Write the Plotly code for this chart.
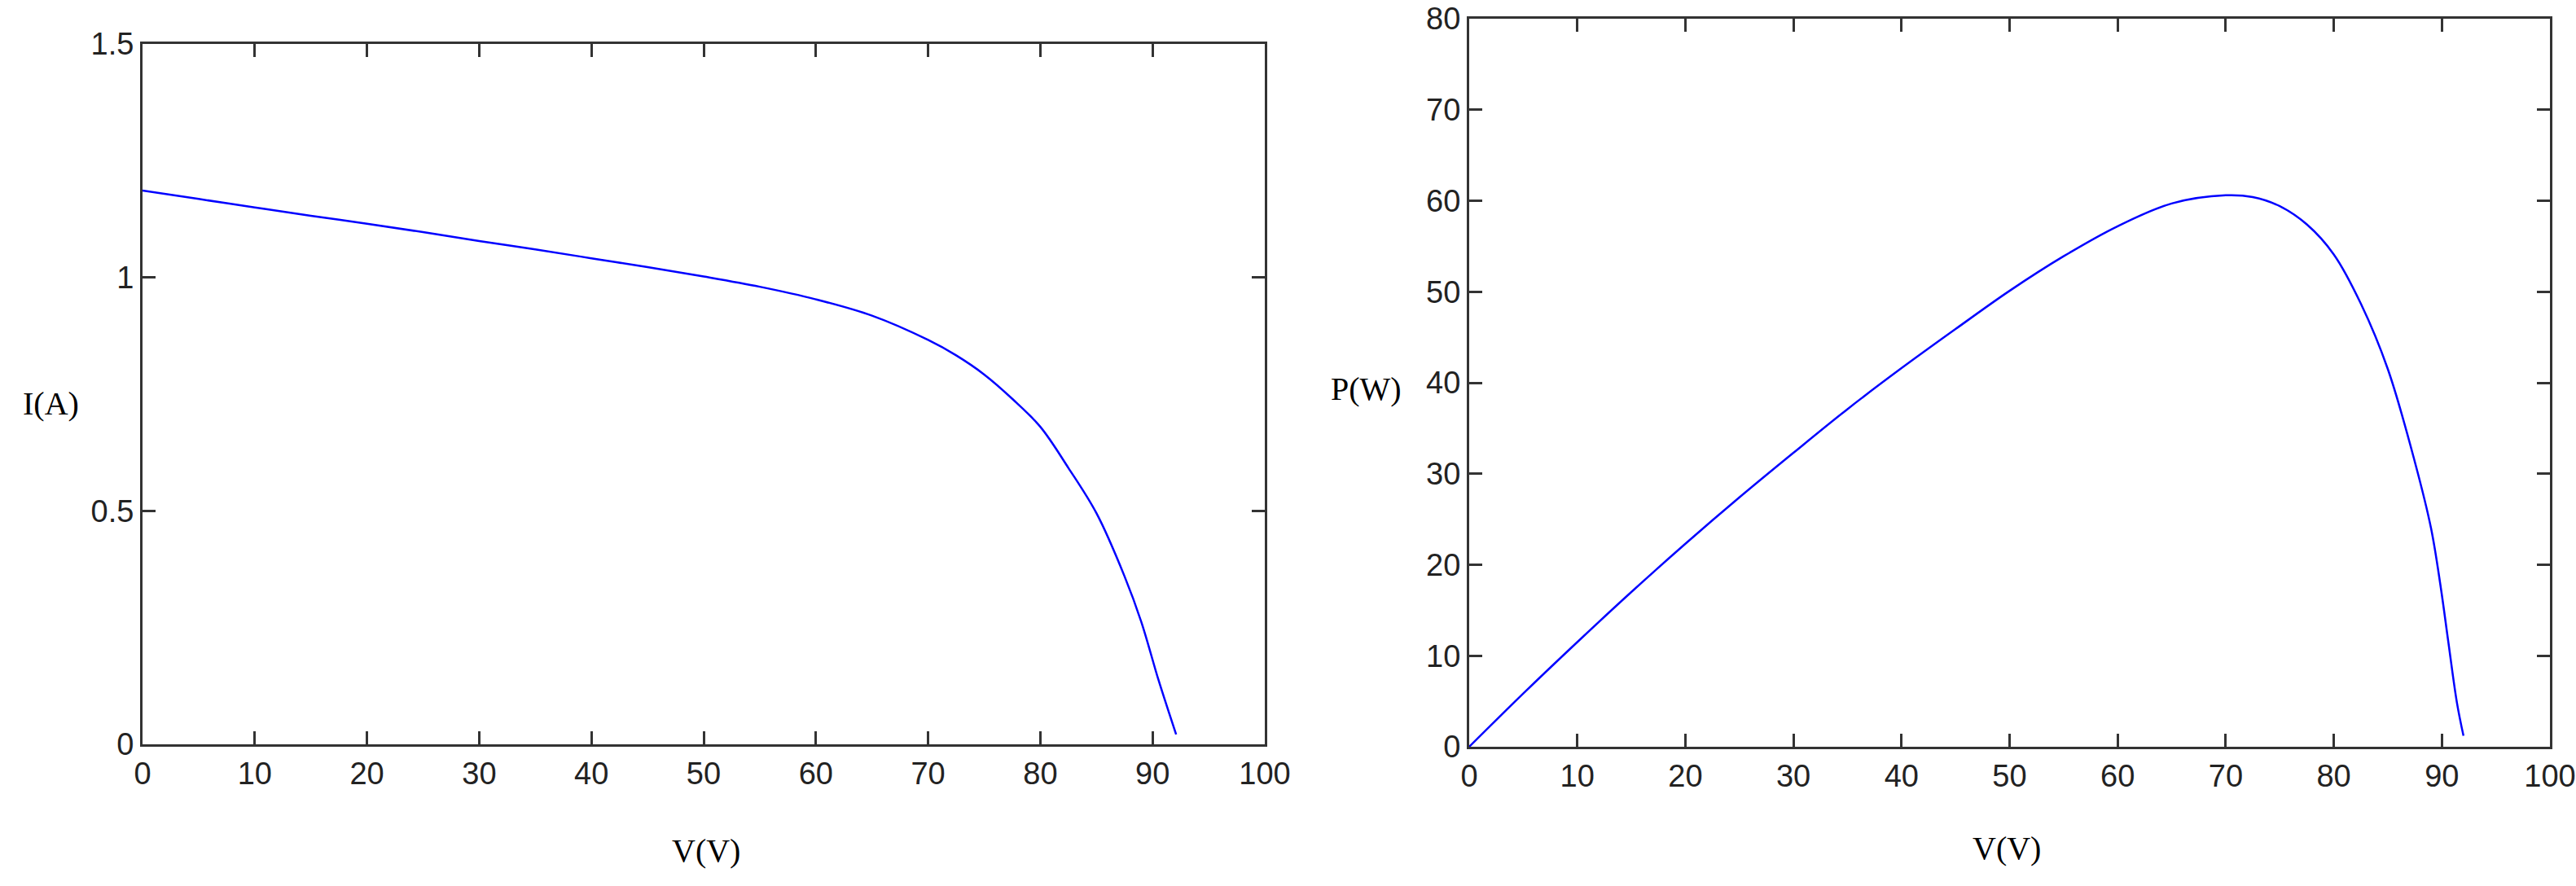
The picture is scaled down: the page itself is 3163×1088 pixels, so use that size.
import plotly.graph_objects as go

# I-V curve
iv_v = [0, 5, 10, 15, 20, 25, 30, 35, 40, 45, 50, 55, 60, 65, 70, 72.5, 75, 77.5,
        80, 82.5, 85, 87.5, 89, 90.5, 91.5, 92.1]
iv_i = [1.186, 1.168, 1.150, 1.132, 1.115, 1.097, 1.078, 1.060, 1.041, 1.022, 1.002,
        0.980, 0.953, 0.918, 0.866, 0.833, 0.792, 0.740, 0.680, 0.592, 0.495, 0.360,
        0.262, 0.140, 0.065, 0.021]

# P-V curve
pv_v = [0, 5, 10, 15, 20, 25, 30, 35, 40, 45, 50, 55, 60, 65, 70, 72.5, 75, 77.5,
        80, 82.5, 85, 87.5, 89, 89.9, 90.6, 91.4, 92.0]
pv_p = [0, 5.85, 11.5, 17.0, 22.3, 27.4, 32.3, 37.1, 41.6, 45.9, 50.1, 53.9, 57.2,
        59.7, 60.6, 60.4, 59.4, 57.4, 54.1, 48.7, 41.5, 31.3, 24.0, 17.5, 11.5, 4.8, 1.2]

x_ticks = [0, 10, 20, 30, 40, 50, 60, 70, 80, 90, 100]
i_ticks = [0, 0.5, 1, 1.5]
i_tick_text = ["0", "0.5", "1", "1.5"]
p_ticks = [0, 10, 20, 30, 40, 50, 60, 70, 80]

W, H = 3163, 1088


def px(x):
    return x / W


def py(y):
    return 1 - y / H


line_color = "#0000FF"
axis_color = "#333333"
tick_font = dict(family="Liberation Sans, Arial", size=38, color="#222222")
title_font = dict(family="Liberation Serif, Times New Roman", size=40, color="#000000")

fig = go.Figure()
fig.add_trace(go.Scatter(x=iv_v, y=iv_i, mode="lines",
                         line=dict(color=line_color, width=2.5, shape="spline", smoothing=1.0),
                         xaxis="x", yaxis="y", showlegend=False, hoverinfo="skip"))
fig.add_trace(go.Scatter(x=pv_v, y=pv_p, mode="lines",
                         line=dict(color=line_color, width=2.5, shape="spline", smoothing=1.0),
                         xaxis="x2", yaxis="y2", showlegend=False, hoverinfo="skip"))

common = dict(showline=True, linecolor=axis_color, linewidth=3, mirror="ticks",
              ticks="inside", ticklen=16, tickwidth=3, tickcolor=axis_color,
              showgrid=False, zeroline=False, tickfont=tick_font, automargin=False,
              ticklabeloverflow="allow")

fig.update_layout(
    width=W, height=H,
    margin=dict(l=0, r=0, t=0, b=0, pad=0),
    paper_bgcolor="white", plot_bgcolor="white",
    xaxis=dict(domain=[px(175), px(1553)], range=[0, 100], tickvals=x_ticks, anchor="y", **common),
    yaxis=dict(domain=[py(914), py(54)], range=[0, 1.5], tickvals=i_ticks,
               ticktext=i_tick_text, anchor="x", **common),
    xaxis2=dict(domain=[px(1804), px(3131)], range=[0, 100], tickvals=x_ticks, anchor="y2", **common),
    yaxis2=dict(domain=[py(917), py(23)], range=[0, 80], tickvals=p_ticks,
                anchor="x2", **common),
    annotations=[
        dict(text="I(A)", x=px(62), y=py(496), xref="paper", yref="paper",
             showarrow=False, font=title_font, xanchor="center", yanchor="middle"),
        dict(text="V(V)", x=px(867), y=py(1044), xref="paper", yref="paper",
             showarrow=False, font=title_font, xanchor="center", yanchor="middle"),
        dict(text="P(W)", x=px(1677), y=py(477), xref="paper", yref="paper",
             showarrow=False, font=title_font, xanchor="center", yanchor="middle"),
        dict(text="V(V)", x=px(2464), y=py(1041), xref="paper", yref="paper",
             showarrow=False, font=title_font, xanchor="center", yanchor="middle"),
    ],
)

fig.write_html("out.html", config={"displayModeBar": False},
               post_script="document.body.style.margin='0';document.body.style.overflow='hidden';")
